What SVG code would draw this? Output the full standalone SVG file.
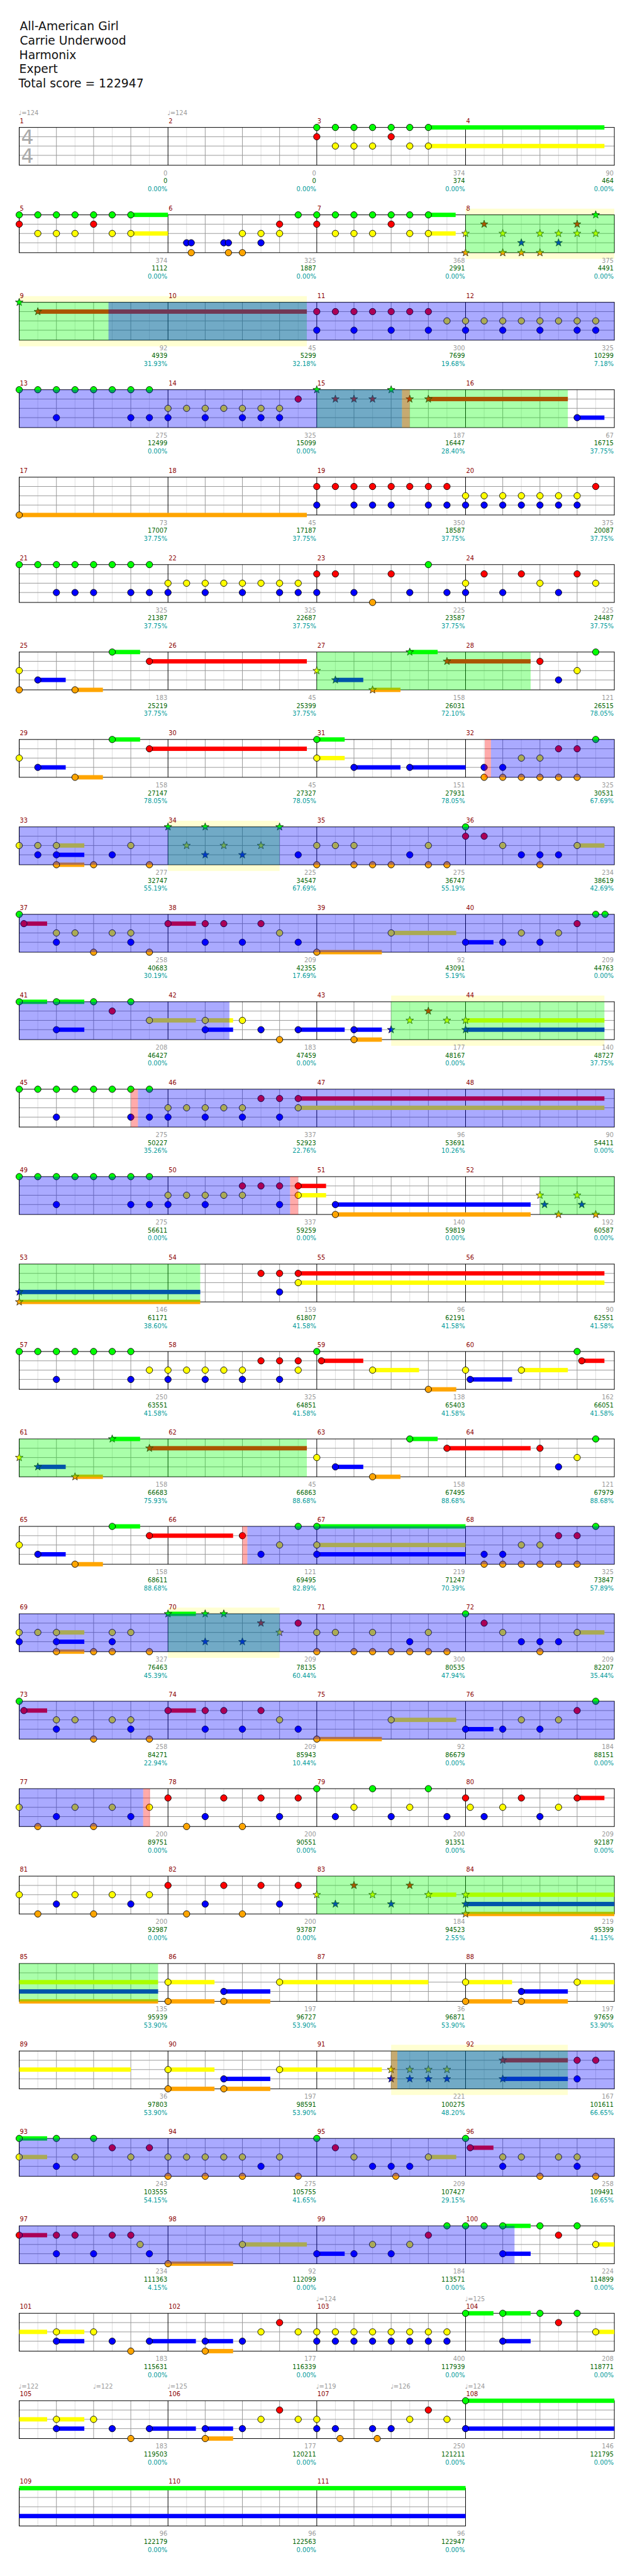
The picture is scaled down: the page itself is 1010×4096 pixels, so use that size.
<svg xmlns="http://www.w3.org/2000/svg" width="1010" height="4096" viewBox="0 0 1010 4096">
<style>
text{font-family:"DejaVu Sans",sans-serif}
.h{font-size:19px;fill:#111}
.mn{font-size:10px;fill:#8b0000}
.tp{font-size:10px;fill:#999}
.s1,.s2,.s3{font-size:10px;text-anchor:end}
.s1{fill:#999}.s2{fill:#006400}.s3{fill:#009a9a}
.ts{font-size:32px;fill:#aaa}
.zG{fill:#0f0}.zR{fill:#f00}.zY{fill:#ff0}.zB{fill:#00f}.zO{fill:#ffa500}
.ob{fill:#00f;opacity:.333}.og{fill:#0f0;opacity:.333}.op{fill:#f00;opacity:.333}.py{fill:#ffffd2}
</style>
<defs>
<g id="m"><path d="M30 0V61M90 0V61M150 0V61M210 0V61" stroke="#ddd"/><path d="M60 0V61M120 0V61M180 0V61M0 15H240M0 30H240M0 45H240" stroke="#999"/><path d="M0 0V61" stroke="#000"/></g>
<g id="r4"><rect x="31" y="0" width="960" height="61" fill="#fff"/><use href="#m" x="31"/><use href="#m" x="271"/><use href="#m" x="511"/><use href="#m" x="751"/><rect x="31" y="0" width="960" height="61" fill="none" stroke="#000"/></g>
<g id="r3"><rect x="31" y="0" width="720" height="61" fill="#fff"/><use href="#m" x="31"/><use href="#m" x="271"/><use href="#m" x="511"/><rect x="31" y="0" width="720" height="61" fill="none" stroke="#000"/></g>
<circle id="G" r="5.2" fill="#0f0" stroke="#000" stroke-width=".9"/>
<circle id="R" r="5.2" fill="#f00" stroke="#000" stroke-width=".9"/>
<circle id="Y" r="5.2" fill="#ff0" stroke="#000" stroke-width=".9"/>
<circle id="B" r="5.2" fill="#00f" stroke="#000" stroke-width=".9"/>
<circle id="O" r="5.2" fill="#ffa500" stroke="#000" stroke-width=".9"/>
<path id="sG" d="M0-6.5L1.53-2.1 6.18-2.01 2.47.8 3.82 5.26 0 2.6-3.82 5.26-2.47.8-6.18-2.01-1.53-2.1Z" fill="#0f0" stroke="#000" stroke-width=".7"/>
<path id="sR" d="M0-6.5L1.53-2.1 6.18-2.01 2.47.8 3.82 5.26 0 2.6-3.82 5.26-2.47.8-6.18-2.01-1.53-2.1Z" fill="#f00" stroke="#000" stroke-width=".7"/>
<path id="sY" d="M0-6.5L1.53-2.1 6.18-2.01 2.47.8 3.82 5.26 0 2.6-3.82 5.26-2.47.8-6.18-2.01-1.53-2.1Z" fill="#ff0" stroke="#000" stroke-width=".7"/>
<path id="sB" d="M0-6.5L1.53-2.1 6.18-2.01 2.47.8 3.82 5.26 0 2.6-3.82 5.26-2.47.8-6.18-2.01-1.53-2.1Z" fill="#00f" stroke="#000" stroke-width=".7"/>
<path id="sO" d="M0-6.5L1.53-2.1 6.18-2.01 2.47.8 3.82 5.26 0 2.6-3.82 5.26-2.47.8-6.18-2.01-1.53-2.1Z" fill="#ffa500" stroke="#000" stroke-width=".7"/>
</defs>
<rect width="1010" height="4096" fill="#fff"/>
<g transform="scale(0.986)">
<g id="header">
<text class="h" x="32" y="49">All-American Girl</text>
<text class="h" x="32" y="72">Carrie Underwood</text>
<text class="h" x="31" y="95">Harmonix</text>
<text class="h" x="31" y="118">Expert</text>
<text class="h" x="30" y="141">Total score = 122947</text>
</g>

<g id="row1" transform="translate(0,205.5)">
<use href="#r4"/>
<text class="ts" x="34" y="27">4</text><text class="ts" x="34" y="57">4</text>
<rect class="zG" x="691" y="-3.5" width="284" height="7"/><rect class="zY" x="691" y="26.5" width="284" height="7"/>
<use href="#G" x="511" y="0"/><use href="#G" x="541" y="0"/><use href="#G" x="571" y="0"/><use href="#G" x="601" y="0"/><use href="#G" x="631" y="0"/><use href="#G" x="661" y="0"/><use href="#G" x="691" y="0"/>
<use href="#R" x="511" y="15"/><use href="#R" x="631" y="15"/>
<use href="#Y" x="541" y="30"/><use href="#Y" x="571" y="30"/><use href="#Y" x="601" y="30"/><use href="#Y" x="661" y="30"/><use href="#Y" x="691" y="30"/>
<text class="tp" x="30" y="-20">♩=124</text><text class="tp" x="270" y="-20">♩=124</text>
<text class="mn" x="32" y="-7">1</text><text class="mn" x="272" y="-7">2</text><text class="mn" x="512" y="-7">3</text><text class="mn" x="752" y="-7">4</text>
<text class="s1" x="270" y="77">0</text><text class="s2" x="270" y="90">0</text><text class="s3" x="270" y="103">0.00%</text>
<text class="s1" x="510" y="77">0</text><text class="s2" x="510" y="90">0</text><text class="s3" x="510" y="103">0.00%</text>
<text class="s1" x="750" y="77">374</text><text class="s2" x="750" y="90">374</text><text class="s3" x="750" y="103">0.00%</text>
<text class="s1" x="990" y="77">90</text><text class="s2" x="990" y="90">464</text><text class="s3" x="990" y="103">0.00%</text>
</g>

<g id="row2" transform="translate(0,346.5)">
<rect class="py" x="751" y="-10" width="240" height="81"/>
<use href="#r4"/>
<rect class="zG" x="211" y="-3.5" width="60" height="7"/><rect class="zY" x="211" y="26.5" width="60" height="7"/><rect class="zG" x="691" y="-3.5" width="44" height="7"/><rect class="zY" x="691" y="26.5" width="44" height="7"/>
<use href="#G" x="31" y="0"/><use href="#G" x="61" y="0"/><use href="#G" x="91" y="0"/><use href="#G" x="121" y="0"/><use href="#G" x="151" y="0"/><use href="#G" x="181" y="0"/><use href="#G" x="211" y="0"/><use href="#G" x="481" y="0"/><use href="#G" x="511" y="0"/><use href="#G" x="541" y="0"/><use href="#G" x="571" y="0"/><use href="#G" x="601" y="0"/><use href="#G" x="631" y="0"/><use href="#G" x="661" y="0"/><use href="#G" x="691" y="0"/>
<use href="#R" x="31" y="15"/><use href="#R" x="151" y="15"/><use href="#R" x="451" y="15"/><use href="#R" x="511" y="15"/><use href="#R" x="631" y="15"/>
<use href="#Y" x="61" y="30"/><use href="#Y" x="91" y="30"/><use href="#Y" x="121" y="30"/><use href="#Y" x="181" y="30"/><use href="#Y" x="211" y="30"/><use href="#Y" x="391" y="30"/><use href="#Y" x="421" y="30"/><use href="#Y" x="451" y="30"/><use href="#Y" x="541" y="30"/><use href="#Y" x="571" y="30"/><use href="#Y" x="601" y="30"/><use href="#Y" x="661" y="30"/><use href="#Y" x="691" y="30"/>
<use href="#B" x="301" y="45"/><use href="#B" x="308.5" y="45"/><use href="#B" x="361" y="45"/><use href="#B" x="368.5" y="45"/><use href="#B" x="421" y="45"/>
<use href="#O" x="308.5" y="61"/><use href="#O" x="368.5" y="61"/><use href="#O" x="391" y="61"/>
<use href="#sY" x="751" y="30"/><use href="#sY" x="811" y="30"/><use href="#sY" x="871" y="30"/><use href="#sY" x="901" y="30"/><use href="#sY" x="931" y="30"/><use href="#sY" x="961" y="30"/>
<use href="#sO" x="751" y="61"/><use href="#sO" x="811" y="61"/><use href="#sO" x="841" y="61"/><use href="#sO" x="871" y="61"/>
<use href="#sR" x="781" y="15"/><use href="#sR" x="931" y="15"/><use href="#sB" x="841" y="45"/><use href="#sB" x="901" y="45"/><use href="#sG" x="961" y="0"/>
<rect class="og" x="751" y="0" width="240" height="61"/>
<text class="mn" x="32" y="-7">5</text><text class="mn" x="272" y="-7">6</text><text class="mn" x="512" y="-7">7</text><text class="mn" x="752" y="-7">8</text>
<text class="s1" x="270" y="77">374</text><text class="s2" x="270" y="90">1112</text><text class="s3" x="270" y="103">0.00%</text>
<text class="s1" x="510" y="77">325</text><text class="s2" x="510" y="90">1887</text><text class="s3" x="510" y="103">0.00%</text>
<text class="s1" x="750" y="77">368</text><text class="s2" x="750" y="90">2991</text><text class="s3" x="750" y="103">0.00%</text>
<text class="s1" x="990" y="77">375</text><text class="s2" x="990" y="90">4491</text><text class="s3" x="990" y="103">0.00%</text>
</g>

<g id="row3" transform="translate(0,487.5)">
<rect class="py" x="31" y="-10" width="464" height="81"/>
<use href="#r4"/>
<rect class="zR" x="61" y="11.5" width="434" height="7"/>
<use href="#sG" x="31" y="0"/><use href="#sR" x="61" y="15"/>
<use href="#R" x="511" y="15"/><use href="#R" x="541" y="15"/><use href="#R" x="571" y="15"/><use href="#R" x="601" y="15"/><use href="#R" x="631" y="15"/><use href="#R" x="661" y="15"/><use href="#R" x="691" y="15"/>
<use href="#B" x="511" y="45"/><use href="#B" x="571" y="45"/><use href="#B" x="631" y="45"/><use href="#B" x="691" y="45"/><use href="#B" x="751" y="45"/><use href="#B" x="811" y="45"/><use href="#B" x="871" y="45"/><use href="#B" x="931" y="45"/><use href="#B" x="961" y="45"/>
<use href="#Y" x="721" y="30"/><use href="#Y" x="751" y="30"/><use href="#Y" x="781" y="30"/><use href="#Y" x="811" y="30"/><use href="#Y" x="841" y="30"/><use href="#Y" x="871" y="30"/><use href="#Y" x="901" y="30"/><use href="#Y" x="931" y="30"/><use href="#Y" x="961" y="30"/>
<rect class="og" x="31" y="0" width="464" height="61"/><rect class="ob" x="175" y="0" width="816" height="61"/>
<text class="mn" x="32" y="-7">9</text><text class="mn" x="272" y="-7">10</text><text class="mn" x="512" y="-7">11</text><text class="mn" x="752" y="-7">12</text>
<text class="s1" x="270" y="77">92</text><text class="s2" x="270" y="90">4939</text><text class="s3" x="270" y="103">31.93%</text>
<text class="s1" x="510" y="77">45</text><text class="s2" x="510" y="90">5299</text><text class="s3" x="510" y="103">32.18%</text>
<text class="s1" x="750" y="77">300</text><text class="s2" x="750" y="90">7699</text><text class="s3" x="750" y="103">19.68%</text>
<text class="s1" x="990" y="77">325</text><text class="s2" x="990" y="90">10299</text><text class="s3" x="990" y="103">7.18%</text>
</g>

<g id="row4" transform="translate(0,628.5)">
<use href="#r4"/>
<rect class="zR" x="691" y="11.5" width="225" height="7"/><rect class="zB" x="931" y="41.5" width="44" height="7"/>
<use href="#G" x="31" y="0"/><use href="#G" x="61" y="0"/><use href="#G" x="91" y="0"/><use href="#G" x="121" y="0"/><use href="#G" x="151" y="0"/><use href="#G" x="181" y="0"/><use href="#G" x="211" y="0"/><use href="#G" x="241" y="0"/>
<use href="#B" x="91" y="45"/><use href="#B" x="211" y="45"/><use href="#B" x="241" y="45"/><use href="#B" x="271" y="45"/><use href="#B" x="331" y="45"/><use href="#B" x="391" y="45"/><use href="#B" x="421" y="45"/><use href="#B" x="451" y="45"/><use href="#B" x="931" y="45"/>
<use href="#Y" x="271" y="30"/><use href="#Y" x="301" y="30"/><use href="#Y" x="331" y="30"/><use href="#Y" x="361" y="30"/><use href="#Y" x="391" y="30"/><use href="#Y" x="421" y="30"/><use href="#Y" x="451" y="30"/>
<use href="#R" x="481" y="15"/>
<use href="#sG" x="511" y="0"/><use href="#sG" x="631" y="0"/><use href="#sR" x="541" y="15"/><use href="#sR" x="571" y="15"/><use href="#sR" x="601" y="15"/><use href="#sR" x="661" y="15"/><use href="#sR" x="691" y="15"/>
<rect class="og" x="511" y="0" width="405" height="61"/><rect class="ob" x="31" y="0" width="617.5" height="61"/><rect class="op" x="648.5" y="0" width="12.5" height="61"/>
<text class="mn" x="32" y="-7">13</text><text class="mn" x="272" y="-7">14</text><text class="mn" x="512" y="-7">15</text><text class="mn" x="752" y="-7">16</text>
<text class="s1" x="270" y="77">275</text><text class="s2" x="270" y="90">12499</text><text class="s3" x="270" y="103">0.00%</text>
<text class="s1" x="510" y="77">325</text><text class="s2" x="510" y="90">15099</text><text class="s3" x="510" y="103">0.00%</text>
<text class="s1" x="750" y="77">187</text><text class="s2" x="750" y="90">16447</text><text class="s3" x="750" y="103">28.40%</text>
<text class="s1" x="990" y="77">67</text><text class="s2" x="990" y="90">16715</text><text class="s3" x="990" y="103">37.75%</text>
</g>

<g id="row5" transform="translate(0,769.5)">
<use href="#r4"/>
<rect class="zO" x="31" y="57.5" width="464" height="7"/>
<use href="#O" x="31" y="61"/>
<use href="#R" x="511" y="15"/><use href="#R" x="541" y="15"/><use href="#R" x="571" y="15"/><use href="#R" x="601" y="15"/><use href="#R" x="631" y="15"/><use href="#R" x="661" y="15"/><use href="#R" x="691" y="15"/><use href="#R" x="721" y="15"/><use href="#R" x="961" y="15"/>
<use href="#B" x="511" y="45"/><use href="#B" x="571" y="45"/><use href="#B" x="601" y="45"/><use href="#B" x="631" y="45"/><use href="#B" x="691" y="45"/><use href="#B" x="721" y="45"/><use href="#B" x="751" y="45"/><use href="#B" x="781" y="45"/><use href="#B" x="811" y="45"/><use href="#B" x="841" y="45"/><use href="#B" x="871" y="45"/><use href="#B" x="901" y="45"/><use href="#B" x="931" y="45"/>
<use href="#Y" x="751" y="30"/><use href="#Y" x="781" y="30"/><use href="#Y" x="811" y="30"/><use href="#Y" x="841" y="30"/><use href="#Y" x="871" y="30"/><use href="#Y" x="901" y="30"/><use href="#Y" x="931" y="30"/>
<text class="mn" x="32" y="-7">17</text><text class="mn" x="272" y="-7">18</text><text class="mn" x="512" y="-7">19</text><text class="mn" x="752" y="-7">20</text>
<text class="s1" x="270" y="77">73</text><text class="s2" x="270" y="90">17007</text><text class="s3" x="270" y="103">37.75%</text>
<text class="s1" x="510" y="77">45</text><text class="s2" x="510" y="90">17187</text><text class="s3" x="510" y="103">37.75%</text>
<text class="s1" x="750" y="77">350</text><text class="s2" x="750" y="90">18587</text><text class="s3" x="750" y="103">37.75%</text>
<text class="s1" x="990" y="77">375</text><text class="s2" x="990" y="90">20087</text><text class="s3" x="990" y="103">37.75%</text>
</g>

<g id="row6" transform="translate(0,910.5)">
<use href="#r4"/>
<use href="#G" x="31" y="0"/><use href="#G" x="61" y="0"/><use href="#G" x="91" y="0"/><use href="#G" x="121" y="0"/><use href="#G" x="151" y="0"/><use href="#G" x="181" y="0"/><use href="#G" x="211" y="0"/><use href="#G" x="241" y="0"/><use href="#G" x="691" y="0"/>
<use href="#B" x="91" y="45"/><use href="#B" x="121" y="45"/><use href="#B" x="151" y="45"/><use href="#B" x="211" y="45"/><use href="#B" x="241" y="45"/><use href="#B" x="271" y="45"/><use href="#B" x="331" y="45"/><use href="#B" x="391" y="45"/><use href="#B" x="451" y="45"/><use href="#B" x="481" y="45"/><use href="#B" x="511" y="45"/><use href="#B" x="571" y="45"/><use href="#B" x="661" y="45"/><use href="#B" x="721" y="45"/><use href="#B" x="751" y="45"/><use href="#B" x="811" y="45"/><use href="#B" x="901" y="45"/>
<use href="#Y" x="271" y="30"/><use href="#Y" x="301" y="30"/><use href="#Y" x="331" y="30"/><use href="#Y" x="361" y="30"/><use href="#Y" x="391" y="30"/><use href="#Y" x="421" y="30"/><use href="#Y" x="451" y="30"/><use href="#Y" x="481" y="30"/><use href="#Y" x="751" y="30"/><use href="#Y" x="871" y="30"/><use href="#Y" x="961" y="30"/>
<use href="#R" x="511" y="15"/><use href="#R" x="541" y="15"/><use href="#R" x="631" y="15"/><use href="#R" x="781" y="15"/><use href="#R" x="841" y="15"/><use href="#R" x="931" y="15"/>
<use href="#O" x="601" y="61"/>
<text class="mn" x="32" y="-7">21</text><text class="mn" x="272" y="-7">22</text><text class="mn" x="512" y="-7">23</text><text class="mn" x="752" y="-7">24</text>
<text class="s1" x="270" y="77">325</text><text class="s2" x="270" y="90">21387</text><text class="s3" x="270" y="103">37.75%</text>
<text class="s1" x="510" y="77">325</text><text class="s2" x="510" y="90">22687</text><text class="s3" x="510" y="103">37.75%</text>
<text class="s1" x="750" y="77">225</text><text class="s2" x="750" y="90">23587</text><text class="s3" x="750" y="103">37.75%</text>
<text class="s1" x="990" y="77">225</text><text class="s2" x="990" y="90">24487</text><text class="s3" x="990" y="103">37.75%</text>
</g>

<g id="row7" transform="translate(0,1051.5)">
<use href="#r4"/>
<rect class="zB" x="61" y="41.5" width="45" height="7"/><rect class="zO" x="121" y="57.5" width="45" height="7"/><rect class="zG" x="181" y="-3.5" width="45" height="7"/><rect class="zR" x="241" y="11.5" width="254" height="7"/>
<rect class="zB" x="541" y="41.5" width="45" height="7"/><rect class="zO" x="601" y="57.5" width="45" height="7"/><rect class="zG" x="661" y="-3.5" width="45" height="7"/><rect class="zR" x="721" y="11.5" width="135" height="7"/>
<use href="#Y" x="31" y="30"/><use href="#O" x="31" y="61"/><use href="#B" x="61" y="45"/><use href="#O" x="121" y="61"/><use href="#G" x="181" y="0"/><use href="#R" x="241" y="15"/>
<use href="#sY" x="511" y="30"/><use href="#sB" x="541" y="45"/><use href="#sO" x="601" y="61"/><use href="#sG" x="661" y="0"/><use href="#sR" x="721" y="15"/>
<use href="#R" x="871" y="15"/><use href="#B" x="901" y="45"/><use href="#Y" x="931" y="30"/><use href="#G" x="961" y="0"/>
<rect class="og" x="511" y="0" width="345" height="61"/>
<text class="mn" x="32" y="-7">25</text><text class="mn" x="272" y="-7">26</text><text class="mn" x="512" y="-7">27</text><text class="mn" x="752" y="-7">28</text>
<text class="s1" x="270" y="77">183</text><text class="s2" x="270" y="90">25219</text><text class="s3" x="270" y="103">37.75%</text>
<text class="s1" x="510" y="77">45</text><text class="s2" x="510" y="90">25399</text><text class="s3" x="510" y="103">37.75%</text>
<text class="s1" x="750" y="77">158</text><text class="s2" x="750" y="90">26031</text><text class="s3" x="750" y="103">72.10%</text>
<text class="s1" x="990" y="77">121</text><text class="s2" x="990" y="90">26515</text><text class="s3" x="990" y="103">78.05%</text>
</g>

<g id="row8" transform="translate(0,1192.5)">
<use href="#r4"/>
<rect class="zB" x="61" y="41.5" width="45" height="7"/><rect class="zO" x="121" y="57.5" width="45" height="7"/><rect class="zG" x="181" y="-3.5" width="45" height="7"/><rect class="zR" x="241" y="11.5" width="254" height="7"/>
<rect class="zG" x="511" y="-3.5" width="45" height="7"/><rect class="zY" x="511" y="26.5" width="45" height="7"/><rect class="zB" x="571" y="41.5" width="75" height="7"/><rect class="zB" x="661" y="41.5" width="90" height="7"/>
<use href="#Y" x="31" y="30"/><use href="#B" x="61" y="45"/><use href="#O" x="121" y="61"/><use href="#G" x="181" y="0"/><use href="#R" x="241" y="15"/>
<use href="#G" x="511" y="0"/><use href="#Y" x="511" y="30"/><use href="#B" x="571" y="45"/><use href="#B" x="661" y="45"/>
<use href="#B" x="781" y="45"/><use href="#B" x="811" y="45"/><use href="#O" x="781" y="61"/><use href="#O" x="811" y="61"/><use href="#O" x="841" y="61"/><use href="#O" x="871" y="61"/><use href="#O" x="901" y="61"/><use href="#O" x="931" y="61"/>
<use href="#Y" x="841" y="30"/><use href="#Y" x="871" y="30"/><use href="#R" x="901" y="15"/><use href="#R" x="931" y="15"/><use href="#G" x="961" y="0"/>
<rect class="op" x="782" y="0" width="10" height="61"/><rect class="ob" x="792" y="0" width="199" height="61"/>
<text class="mn" x="32" y="-7">29</text><text class="mn" x="272" y="-7">30</text><text class="mn" x="512" y="-7">31</text><text class="mn" x="752" y="-7">32</text>
<text class="s1" x="270" y="77">158</text><text class="s2" x="270" y="90">27147</text><text class="s3" x="270" y="103">78.05%</text>
<text class="s1" x="510" y="77">45</text><text class="s2" x="510" y="90">27327</text><text class="s3" x="510" y="103">78.05%</text>
<text class="s1" x="750" y="77">151</text><text class="s2" x="750" y="90">27931</text><text class="s3" x="750" y="103">78.05%</text>
<text class="s1" x="990" y="77">325</text><text class="s2" x="990" y="90">30531</text><text class="s3" x="990" y="103">67.69%</text>
</g>

<g id="row9" transform="translate(0,1333.5)">
<rect class="py" x="271" y="-10" width="180" height="81"/>
<use href="#r4"/>
<rect class="zY" x="91" y="26.5" width="45" height="7"/><rect class="zB" x="91" y="41.5" width="45" height="7"/><rect class="zO" x="91" y="57.5" width="45" height="7"/><rect class="zY" x="931" y="26.5" width="44" height="7"/>
<use href="#Y" x="31" y="30"/><use href="#Y" x="61" y="30"/><use href="#Y" x="91" y="30"/><use href="#Y" x="211" y="30"/><use href="#Y" x="511" y="30"/><use href="#Y" x="541" y="30"/><use href="#Y" x="571" y="30"/><use href="#Y" x="691" y="30"/><use href="#Y" x="811" y="30"/><use href="#Y" x="931" y="30"/>
<use href="#B" x="61" y="45"/><use href="#B" x="91" y="45"/><use href="#B" x="181" y="45"/><use href="#B" x="481" y="45"/><use href="#B" x="661" y="45"/><use href="#B" x="841" y="45"/><use href="#B" x="871" y="45"/><use href="#B" x="901" y="45"/>
<use href="#O" x="91" y="61"/><use href="#O" x="151" y="61"/><use href="#O" x="241" y="61"/><use href="#O" x="511" y="61"/><use href="#O" x="571" y="61"/><use href="#O" x="601" y="61"/><use href="#O" x="631" y="61"/><use href="#O" x="691" y="61"/><use href="#O" x="721" y="61"/><use href="#O" x="871" y="61"/>
<use href="#G" x="751" y="0"/><use href="#R" x="751" y="15"/><use href="#R" x="781" y="15"/>
<use href="#sG" x="271" y="0"/><use href="#sG" x="331" y="0"/><use href="#sG" x="451" y="0"/><use href="#sY" x="301" y="30"/><use href="#sY" x="361" y="30"/><use href="#sY" x="421" y="30"/><use href="#sB" x="331" y="45"/><use href="#sB" x="391" y="45"/>
<rect class="og" x="271" y="0" width="180" height="61"/><rect class="ob" x="31" y="0" width="960" height="61"/>
<text class="mn" x="32" y="-7">33</text><text class="mn" x="272" y="-7">34</text><text class="mn" x="512" y="-7">35</text><text class="mn" x="752" y="-7">36</text>
<text class="s1" x="270" y="77">277</text><text class="s2" x="270" y="90">32747</text><text class="s3" x="270" y="103">55.19%</text>
<text class="s1" x="510" y="77">225</text><text class="s2" x="510" y="90">34547</text><text class="s3" x="510" y="103">67.69%</text>
<text class="s1" x="750" y="77">275</text><text class="s2" x="750" y="90">36747</text><text class="s3" x="750" y="103">55.19%</text>
<text class="s1" x="990" y="77">234</text><text class="s2" x="990" y="90">38619</text><text class="s3" x="990" y="103">42.69%</text>
</g>

<g id="row10" transform="translate(0,1474.5)">
<use href="#r4"/>
<rect class="zR" x="38.5" y="11.5" width="37.5" height="7"/><rect class="zR" x="271" y="11.5" width="45" height="7"/><rect class="zO" x="511" y="57.5" width="105" height="7"/><rect class="zY" x="631" y="26.5" width="105" height="7"/><rect class="zB" x="751" y="41.5" width="45" height="7"/>
<use href="#G" x="31" y="0"/><use href="#G" x="961" y="0"/><use href="#G" x="976" y="0"/>
<use href="#R" x="38.5" y="15"/><use href="#R" x="271" y="15"/><use href="#R" x="331" y="15"/><use href="#R" x="361" y="15"/><use href="#R" x="421" y="15"/><use href="#R" x="931" y="15"/>
<use href="#Y" x="91" y="30"/><use href="#Y" x="121" y="30"/><use href="#Y" x="181" y="30"/><use href="#Y" x="211" y="30"/><use href="#Y" x="451" y="30"/><use href="#Y" x="631" y="30"/><use href="#Y" x="841" y="30"/><use href="#Y" x="901" y="30"/>
<use href="#B" x="91" y="45"/><use href="#B" x="211" y="45"/><use href="#B" x="331" y="45"/><use href="#B" x="391" y="45"/><use href="#B" x="481" y="45"/><use href="#B" x="751" y="45"/><use href="#B" x="811" y="45"/><use href="#B" x="871" y="45"/>
<use href="#O" x="151" y="61"/><use href="#O" x="241" y="61"/><use href="#O" x="511" y="61"/>
<rect class="ob" x="31" y="0" width="960" height="61"/>
<text class="mn" x="32" y="-7">37</text><text class="mn" x="272" y="-7">38</text><text class="mn" x="512" y="-7">39</text><text class="mn" x="752" y="-7">40</text>
<text class="s1" x="270" y="77">258</text><text class="s2" x="270" y="90">40683</text><text class="s3" x="270" y="103">30.19%</text>
<text class="s1" x="510" y="77">209</text><text class="s2" x="510" y="90">42355</text><text class="s3" x="510" y="103">17.69%</text>
<text class="s1" x="750" y="77">92</text><text class="s2" x="750" y="90">43091</text><text class="s3" x="750" y="103">5.19%</text>
<text class="s1" x="990" y="77">209</text><text class="s2" x="990" y="90">44763</text><text class="s3" x="990" y="103">0.00%</text>
</g>

<g id="row11" transform="translate(0,1615.5)">
<rect class="py" x="631" y="-10" width="344" height="81"/>
<use href="#r4"/>
<rect class="zG" x="31" y="-3.5" width="45" height="7"/><rect class="zG" x="91" y="-3.5" width="45" height="7"/><rect class="zY" x="241" y="26.5" width="75" height="7"/><rect class="zB" x="91" y="41.5" width="45" height="7"/>
<rect class="zY" x="331" y="26.5" width="45" height="7"/><rect class="zB" x="331" y="41.5" width="45" height="7"/><rect class="zB" x="481" y="41.5" width="75" height="7"/><rect class="zB" x="571" y="41.5" width="45" height="7"/><rect class="zO" x="571" y="57.5" width="45" height="7"/>
<rect class="zY" x="751" y="26.5" width="224" height="7"/><rect class="zB" x="751" y="41.5" width="224" height="7"/>
<use href="#G" x="31" y="0"/><use href="#G" x="91" y="0"/><use href="#G" x="151" y="0"/><use href="#G" x="211" y="0"/><use href="#R" x="181" y="15"/>
<use href="#Y" x="241" y="30"/><use href="#Y" x="331" y="30"/><use href="#Y" x="391" y="30"/>
<use href="#B" x="91" y="45"/><use href="#B" x="331" y="45"/><use href="#B" x="421" y="45"/><use href="#B" x="481" y="45"/><use href="#B" x="571" y="45"/>
<use href="#O" x="451" y="61"/><use href="#O" x="571" y="61"/>
<use href="#sB" x="631" y="45"/><use href="#sY" x="661" y="30"/><use href="#sR" x="691" y="15"/><use href="#sY" x="721" y="30"/><use href="#sY" x="751" y="30"/><use href="#sB" x="751" y="45"/>
<rect class="ob" x="31" y="0" width="339" height="61"/><rect class="og" x="631" y="0" width="344" height="61"/>
<text class="mn" x="32" y="-7">41</text><text class="mn" x="272" y="-7">42</text><text class="mn" x="512" y="-7">43</text><text class="mn" x="752" y="-7">44</text>
<text class="s1" x="270" y="77">208</text><text class="s2" x="270" y="90">46427</text><text class="s3" x="270" y="103">0.00%</text>
<text class="s1" x="510" y="77">183</text><text class="s2" x="510" y="90">47459</text><text class="s3" x="510" y="103">0.00%</text>
<text class="s1" x="750" y="77">177</text><text class="s2" x="750" y="90">48167</text><text class="s3" x="750" y="103">0.00%</text>
<text class="s1" x="990" y="77">140</text><text class="s2" x="990" y="90">48727</text><text class="s3" x="990" y="103">37.75%</text>
</g>

<g id="row12" transform="translate(0,1756.5)">
<use href="#r4"/>
<rect class="zY" x="481" y="26.5" width="494" height="7"/><rect class="zR" x="481" y="11.5" width="494" height="7"/>
<use href="#G" x="31" y="0"/><use href="#G" x="61" y="0"/><use href="#G" x="91" y="0"/><use href="#G" x="121" y="0"/><use href="#G" x="151" y="0"/><use href="#G" x="181" y="0"/><use href="#G" x="211" y="0"/><use href="#G" x="241" y="0"/>
<use href="#B" x="91" y="45"/><use href="#B" x="211" y="45"/><use href="#B" x="241" y="45"/><use href="#B" x="271" y="45"/><use href="#B" x="331" y="45"/><use href="#B" x="391" y="45"/><use href="#B" x="451" y="45"/>
<use href="#Y" x="271" y="30"/><use href="#Y" x="301" y="30"/><use href="#Y" x="331" y="30"/><use href="#Y" x="361" y="30"/><use href="#Y" x="391" y="30"/><use href="#Y" x="481" y="30"/>
<use href="#R" x="421" y="15"/><use href="#R" x="451" y="15"/><use href="#R" x="481" y="15"/>
<rect class="op" x="211.5" y="0" width="11" height="61"/><rect class="ob" x="222.5" y="0" width="768.5" height="61"/>
<text class="mn" x="32" y="-7">45</text><text class="mn" x="272" y="-7">46</text><text class="mn" x="512" y="-7">47</text><text class="mn" x="752" y="-7">48</text>
<text class="s1" x="270" y="77">275</text><text class="s2" x="270" y="90">50227</text><text class="s3" x="270" y="103">35.26%</text>
<text class="s1" x="510" y="77">337</text><text class="s2" x="510" y="90">52923</text><text class="s3" x="510" y="103">22.76%</text>
<text class="s1" x="750" y="77">96</text><text class="s2" x="750" y="90">53691</text><text class="s3" x="750" y="103">10.26%</text>
<text class="s1" x="990" y="77">90</text><text class="s2" x="990" y="90">54411</text><text class="s3" x="990" y="103">0.00%</text>
</g>

<g id="row13" transform="translate(0,1897.5)">
<use href="#r4"/>
<rect class="zR" x="481" y="11.5" width="45" height="7"/><rect class="zY" x="481" y="26.5" width="45" height="7"/><rect class="zB" x="541" y="41.5" width="315" height="7"/><rect class="zO" x="541" y="57.5" width="315" height="7"/>
<use href="#G" x="31" y="0"/><use href="#G" x="61" y="0"/><use href="#G" x="91" y="0"/><use href="#G" x="121" y="0"/><use href="#G" x="151" y="0"/><use href="#G" x="181" y="0"/><use href="#G" x="211" y="0"/><use href="#G" x="241" y="0"/>
<use href="#B" x="91" y="45"/><use href="#B" x="211" y="45"/><use href="#B" x="241" y="45"/><use href="#B" x="271" y="45"/><use href="#B" x="331" y="45"/><use href="#B" x="451" y="45"/><use href="#B" x="541" y="45"/>
<use href="#Y" x="271" y="30"/><use href="#Y" x="301" y="30"/><use href="#Y" x="331" y="30"/><use href="#Y" x="361" y="30"/><use href="#Y" x="391" y="30"/><use href="#Y" x="481" y="30"/>
<use href="#R" x="391" y="15"/><use href="#R" x="421" y="15"/><use href="#R" x="451" y="15"/><use href="#R" x="481" y="15"/>
<use href="#O" x="541" y="61"/>
<use href="#sY" x="871" y="30"/><use href="#sY" x="931" y="30"/><use href="#sB" x="878.5" y="45"/><use href="#sB" x="938.5" y="45"/><use href="#sO" x="901" y="61"/><use href="#sO" x="961" y="61"/>
<rect class="ob" x="31" y="0" width="437" height="61"/><rect class="op" x="468" y="0" width="13" height="61"/><rect class="og" x="871" y="0" width="120" height="61"/>
<text class="mn" x="32" y="-7">49</text><text class="mn" x="272" y="-7">50</text><text class="mn" x="512" y="-7">51</text><text class="mn" x="752" y="-7">52</text>
<text class="s1" x="270" y="77">275</text><text class="s2" x="270" y="90">56611</text><text class="s3" x="270" y="103">0.00%</text>
<text class="s1" x="510" y="77">337</text><text class="s2" x="510" y="90">59259</text><text class="s3" x="510" y="103">0.00%</text>
<text class="s1" x="750" y="77">140</text><text class="s2" x="750" y="90">59819</text><text class="s3" x="750" y="103">0.00%</text>
<text class="s1" x="990" y="77">192</text><text class="s2" x="990" y="90">60587</text><text class="s3" x="990" y="103">0.00%</text>
</g>

<g id="row14" transform="translate(0,2038.5)">
<use href="#r4"/>
<rect class="zB" x="31" y="41.5" width="292" height="7"/><rect class="zO" x="31" y="57.5" width="292" height="7"/><rect class="zR" x="481" y="11.5" width="494" height="7"/><rect class="zY" x="481" y="26.5" width="494" height="7"/>
<use href="#sB" x="31" y="45"/><use href="#sO" x="31" y="61"/>
<use href="#R" x="421" y="15"/><use href="#R" x="451" y="15"/><use href="#R" x="481" y="15"/><use href="#Y" x="481" y="30"/><use href="#B" x="451" y="45"/>
<rect class="og" x="31" y="0" width="292" height="61"/>
<text class="mn" x="32" y="-7">53</text><text class="mn" x="272" y="-7">54</text><text class="mn" x="512" y="-7">55</text><text class="mn" x="752" y="-7">56</text>
<text class="s1" x="270" y="77">146</text><text class="s2" x="270" y="90">61171</text><text class="s3" x="270" y="103">38.60%</text>
<text class="s1" x="510" y="77">159</text><text class="s2" x="510" y="90">61807</text><text class="s3" x="510" y="103">41.58%</text>
<text class="s1" x="750" y="77">96</text><text class="s2" x="750" y="90">62191</text><text class="s3" x="750" y="103">41.58%</text>
<text class="s1" x="990" y="77">90</text><text class="s2" x="990" y="90">62551</text><text class="s3" x="990" y="103">41.58%</text>
</g>

<g id="row15" transform="translate(0,2179.5)">
<use href="#r4"/>
<rect class="zR" x="518.5" y="11.5" width="67.5" height="7"/><rect class="zY" x="601" y="26.5" width="75" height="7"/><rect class="zO" x="691" y="57.5" width="45" height="7"/><rect class="zB" x="758.5" y="41.5" width="67.5" height="7"/><rect class="zY" x="841" y="26.5" width="75" height="7"/><rect class="zR" x="938.5" y="11.5" width="36.5" height="7"/>
<use href="#G" x="31" y="0"/><use href="#G" x="61" y="0"/><use href="#G" x="91" y="0"/><use href="#G" x="121" y="0"/><use href="#G" x="151" y="0"/><use href="#G" x="181" y="0"/><use href="#G" x="211" y="0"/><use href="#G" x="511" y="0"/><use href="#G" x="931" y="0"/>
<use href="#B" x="91" y="45"/><use href="#B" x="211" y="45"/><use href="#B" x="271" y="45"/><use href="#B" x="331" y="45"/><use href="#B" x="391" y="45"/><use href="#B" x="451" y="45"/><use href="#B" x="758.5" y="45"/>
<use href="#Y" x="241" y="30"/><use href="#Y" x="271" y="30"/><use href="#Y" x="301" y="30"/><use href="#Y" x="331" y="30"/><use href="#Y" x="361" y="30"/><use href="#Y" x="391" y="30"/><use href="#Y" x="481" y="30"/><use href="#Y" x="601" y="30"/><use href="#Y" x="751" y="30"/><use href="#Y" x="841" y="30"/>
<use href="#R" x="421" y="15"/><use href="#R" x="451" y="15"/><use href="#R" x="481" y="15"/><use href="#R" x="518.5" y="15"/><use href="#R" x="938.5" y="15"/>
<use href="#O" x="691" y="61"/>
<text class="mn" x="32" y="-7">57</text><text class="mn" x="272" y="-7">58</text><text class="mn" x="512" y="-7">59</text><text class="mn" x="752" y="-7">60</text>
<text class="s1" x="270" y="77">250</text><text class="s2" x="270" y="90">63551</text><text class="s3" x="270" y="103">41.58%</text>
<text class="s1" x="510" y="77">325</text><text class="s2" x="510" y="90">64851</text><text class="s3" x="510" y="103">41.58%</text>
<text class="s1" x="750" y="77">138</text><text class="s2" x="750" y="90">65403</text><text class="s3" x="750" y="103">41.58%</text>
<text class="s1" x="990" y="77">162</text><text class="s2" x="990" y="90">66051</text><text class="s3" x="990" y="103">41.58%</text>
</g>

<g id="row16" transform="translate(0,2320.5)">
<use href="#r4"/>
<rect class="zB" x="61" y="41.5" width="45" height="7"/><rect class="zO" x="121" y="57.5" width="45" height="7"/><rect class="zG" x="181" y="-3.5" width="45" height="7"/><rect class="zR" x="241" y="11.5" width="254" height="7"/>
<rect class="zB" x="541" y="41.5" width="45" height="7"/><rect class="zO" x="601" y="57.5" width="45" height="7"/><rect class="zG" x="661" y="-3.5" width="45" height="7"/><rect class="zR" x="721" y="11.5" width="135" height="7"/>
<use href="#sY" x="31" y="30"/><use href="#sB" x="61" y="45"/><use href="#sO" x="121" y="61"/><use href="#sG" x="181" y="0"/><use href="#sR" x="241" y="15"/>
<use href="#Y" x="511" y="30"/><use href="#B" x="541" y="45"/><use href="#O" x="601" y="61"/><use href="#G" x="661" y="0"/><use href="#R" x="721" y="15"/>
<use href="#R" x="871" y="15"/><use href="#B" x="901" y="45"/><use href="#Y" x="931" y="30"/><use href="#G" x="961" y="0"/>
<rect class="og" x="31" y="0" width="464" height="61"/>
<text class="mn" x="32" y="-7">61</text><text class="mn" x="272" y="-7">62</text><text class="mn" x="512" y="-7">63</text><text class="mn" x="752" y="-7">64</text>
<text class="s1" x="270" y="77">158</text><text class="s2" x="270" y="90">66683</text><text class="s3" x="270" y="103">75.93%</text>
<text class="s1" x="510" y="77">45</text><text class="s2" x="510" y="90">66863</text><text class="s3" x="510" y="103">88.68%</text>
<text class="s1" x="750" y="77">158</text><text class="s2" x="750" y="90">67495</text><text class="s3" x="750" y="103">88.68%</text>
<text class="s1" x="990" y="77">121</text><text class="s2" x="990" y="90">67979</text><text class="s3" x="990" y="103">88.68%</text>
</g>

<g id="row17" transform="translate(0,2461.5)">
<use href="#r4"/>
<rect class="zB" x="61" y="41.5" width="45" height="7"/><rect class="zO" x="121" y="57.5" width="45" height="7"/><rect class="zG" x="181" y="-3.5" width="45" height="7"/><rect class="zR" x="241" y="11.5" width="135" height="7"/>
<rect class="zG" x="511" y="-3.5" width="240" height="7"/><rect class="zY" x="511" y="26.5" width="240" height="7"/><rect class="zB" x="511" y="41.5" width="240" height="7"/>
<use href="#Y" x="31" y="30"/><use href="#B" x="61" y="45"/><use href="#O" x="121" y="61"/><use href="#G" x="181" y="0"/><use href="#R" x="241" y="15"/>
<use href="#R" x="391" y="15"/><use href="#B" x="421" y="45"/><use href="#Y" x="451" y="30"/><use href="#G" x="481" y="0"/>
<use href="#G" x="511" y="0"/><use href="#Y" x="511" y="30"/><use href="#B" x="511" y="45"/>
<use href="#B" x="781" y="45"/><use href="#B" x="811" y="45"/><use href="#O" x="781" y="61"/><use href="#O" x="811" y="61"/><use href="#O" x="841" y="61"/><use href="#O" x="871" y="61"/><use href="#O" x="901" y="61"/><use href="#O" x="931" y="61"/>
<use href="#Y" x="841" y="30"/><use href="#Y" x="871" y="30"/><use href="#R" x="901" y="15"/><use href="#R" x="931" y="15"/><use href="#G" x="961" y="0"/>
<rect class="op" x="391" y="0" width="8" height="61"/><rect class="ob" x="399" y="0" width="592" height="61"/>
<text class="mn" x="32" y="-7">65</text><text class="mn" x="272" y="-7">66</text><text class="mn" x="512" y="-7">67</text><text class="mn" x="752" y="-7">68</text>
<text class="s1" x="270" y="77">158</text><text class="s2" x="270" y="90">68611</text><text class="s3" x="270" y="103">88.68%</text>
<text class="s1" x="510" y="77">121</text><text class="s2" x="510" y="90">69495</text><text class="s3" x="510" y="103">82.89%</text>
<text class="s1" x="750" y="77">219</text><text class="s2" x="750" y="90">71247</text><text class="s3" x="750" y="103">70.39%</text>
<text class="s1" x="990" y="77">325</text><text class="s2" x="990" y="90">73847</text><text class="s3" x="990" y="103">57.89%</text>
</g>

<g id="row18" transform="translate(0,2602.5)">
<rect class="py" x="271" y="-10" width="180" height="81"/>
<use href="#r4"/>
<rect class="zY" x="91" y="26.5" width="45" height="7"/><rect class="zB" x="91" y="41.5" width="45" height="7"/><rect class="zO" x="91" y="57.5" width="45" height="7"/><rect class="zG" x="271" y="-3.5" width="45" height="7"/><rect class="zY" x="931" y="26.5" width="44" height="7"/>
<use href="#Y" x="31" y="30"/><use href="#Y" x="61" y="30"/><use href="#Y" x="91" y="30"/><use href="#Y" x="181" y="30"/><use href="#Y" x="211" y="30"/><use href="#Y" x="511" y="30"/><use href="#Y" x="541" y="30"/><use href="#Y" x="601" y="30"/><use href="#Y" x="691" y="30"/><use href="#Y" x="811" y="30"/><use href="#Y" x="931" y="30"/>
<use href="#B" x="31" y="45"/><use href="#B" x="91" y="45"/><use href="#B" x="181" y="45"/><use href="#B" x="661" y="45"/><use href="#B" x="841" y="45"/><use href="#B" x="871" y="45"/><use href="#B" x="901" y="45"/>
<use href="#O" x="91" y="61"/><use href="#O" x="151" y="61"/><use href="#O" x="181" y="61"/><use href="#O" x="241" y="61"/><use href="#O" x="511" y="61"/><use href="#O" x="571" y="61"/><use href="#O" x="601" y="61"/><use href="#O" x="631" y="61"/><use href="#O" x="661" y="61"/><use href="#O" x="691" y="61"/><use href="#O" x="721" y="61"/><use href="#O" x="871" y="61"/>
<use href="#R" x="481" y="15"/><use href="#R" x="781" y="15"/><use href="#G" x="751" y="0"/>
<use href="#sG" x="271" y="0"/><use href="#sG" x="331" y="0"/><use href="#sG" x="361" y="0"/><use href="#sR" x="421" y="15"/><use href="#sY" x="451" y="30"/><use href="#sB" x="331" y="45"/><use href="#sB" x="391" y="45"/>
<rect class="og" x="271" y="0" width="180" height="61"/><rect class="ob" x="31" y="0" width="960" height="61"/>
<text class="mn" x="32" y="-7">69</text><text class="mn" x="272" y="-7">70</text><text class="mn" x="512" y="-7">71</text><text class="mn" x="752" y="-7">72</text>
<text class="s1" x="270" y="77">327</text><text class="s2" x="270" y="90">76463</text><text class="s3" x="270" y="103">45.39%</text>
<text class="s1" x="510" y="77">209</text><text class="s2" x="510" y="90">78135</text><text class="s3" x="510" y="103">60.44%</text>
<text class="s1" x="750" y="77">300</text><text class="s2" x="750" y="90">80535</text><text class="s3" x="750" y="103">47.94%</text>
<text class="s1" x="990" y="77">209</text><text class="s2" x="990" y="90">82207</text><text class="s3" x="990" y="103">35.44%</text>
</g>

<g id="row19" transform="translate(0,2743.5)">
<use href="#r4"/>
<rect class="zR" x="38.5" y="11.5" width="37.5" height="7"/><rect class="zR" x="271" y="11.5" width="45" height="7"/><rect class="zO" x="511" y="57.5" width="105" height="7"/><rect class="zY" x="631" y="26.5" width="105" height="7"/><rect class="zB" x="751" y="41.5" width="45" height="7"/>
<use href="#G" x="31" y="0"/><use href="#G" x="961" y="0"/>
<use href="#R" x="38.5" y="15"/><use href="#R" x="271" y="15"/><use href="#R" x="331" y="15"/><use href="#R" x="361" y="15"/><use href="#R" x="421" y="15"/><use href="#R" x="931" y="15"/>
<use href="#Y" x="91" y="30"/><use href="#Y" x="121" y="30"/><use href="#Y" x="181" y="30"/><use href="#Y" x="211" y="30"/><use href="#Y" x="451" y="30"/><use href="#Y" x="631" y="30"/><use href="#Y" x="841" y="30"/><use href="#Y" x="901" y="30"/>
<use href="#B" x="91" y="45"/><use href="#B" x="211" y="45"/><use href="#B" x="331" y="45"/><use href="#B" x="391" y="45"/><use href="#B" x="481" y="45"/><use href="#B" x="751" y="45"/><use href="#B" x="811" y="45"/><use href="#B" x="871" y="45"/>
<use href="#O" x="151" y="61"/><use href="#O" x="241" y="61"/><use href="#O" x="511" y="61"/>
<rect class="ob" x="31" y="0" width="960" height="61"/>
<text class="mn" x="32" y="-7">73</text><text class="mn" x="272" y="-7">74</text><text class="mn" x="512" y="-7">75</text><text class="mn" x="752" y="-7">76</text>
<text class="s1" x="270" y="77">258</text><text class="s2" x="270" y="90">84271</text><text class="s3" x="270" y="103">22.94%</text>
<text class="s1" x="510" y="77">209</text><text class="s2" x="510" y="90">85943</text><text class="s3" x="510" y="103">10.44%</text>
<text class="s1" x="750" y="77">92</text><text class="s2" x="750" y="90">86679</text><text class="s3" x="750" y="103">0.00%</text>
<text class="s1" x="990" y="77">184</text><text class="s2" x="990" y="90">88151</text><text class="s3" x="990" y="103">0.00%</text>
</g>

<g id="row20" transform="translate(0,2884.5)">
<use href="#r4"/>
<rect class="zR" x="931" y="11.5" width="44" height="7"/>
<use href="#Y" x="31" y="30"/><use href="#Y" x="121" y="30"/><use href="#Y" x="181" y="30"/><use href="#Y" x="241" y="30"/><use href="#Y" x="571" y="30"/><use href="#Y" x="661" y="30"/><use href="#Y" x="758.5" y="30"/><use href="#Y" x="811" y="30"/><use href="#Y" x="901" y="30"/>
<use href="#B" x="91" y="45"/><use href="#B" x="211" y="45"/><use href="#B" x="331" y="45"/><use href="#B" x="451" y="45"/><use href="#B" x="541" y="45"/><use href="#B" x="631" y="45"/><use href="#B" x="721" y="45"/><use href="#B" x="781" y="45"/><use href="#B" x="871" y="45"/>
<use href="#O" x="61" y="61"/><use href="#O" x="151" y="61"/><use href="#O" x="301" y="61"/><use href="#O" x="391" y="61"/>
<use href="#R" x="271" y="15"/><use href="#R" x="361" y="15"/><use href="#R" x="421" y="15"/><use href="#R" x="481" y="15"/><use href="#R" x="751" y="15"/><use href="#R" x="841" y="15"/><use href="#R" x="931" y="15"/>
<use href="#G" x="511" y="0"/><use href="#G" x="601" y="0"/><use href="#G" x="691" y="0"/>
<rect class="ob" x="31" y="0" width="200" height="61"/><rect class="op" x="231" y="0" width="11" height="61"/>
<text class="mn" x="32" y="-7">77</text><text class="mn" x="272" y="-7">78</text><text class="mn" x="512" y="-7">79</text><text class="mn" x="752" y="-7">80</text>
<text class="s1" x="270" y="77">200</text><text class="s2" x="270" y="90">89751</text><text class="s3" x="270" y="103">0.00%</text>
<text class="s1" x="510" y="77">200</text><text class="s2" x="510" y="90">90551</text><text class="s3" x="510" y="103">0.00%</text>
<text class="s1" x="750" y="77">200</text><text class="s2" x="750" y="90">91351</text><text class="s3" x="750" y="103">0.00%</text>
<text class="s1" x="990" y="77">209</text><text class="s2" x="990" y="90">92187</text><text class="s3" x="990" y="103">0.00%</text>
</g>

<g id="row21" transform="translate(0,3025.5)">
<use href="#r4"/>
<rect class="zY" x="691" y="26.5" width="45" height="7"/><rect class="zY" x="751" y="26.5" width="240" height="7"/><rect class="zB" x="751" y="41.5" width="240" height="7"/><rect class="zO" x="751" y="57.5" width="240" height="7"/>
<use href="#Y" x="31" y="30"/><use href="#Y" x="121" y="30"/><use href="#Y" x="181" y="30"/><use href="#Y" x="241" y="30"/>
<use href="#B" x="91" y="45"/><use href="#B" x="211" y="45"/><use href="#B" x="331" y="45"/><use href="#B" x="451" y="45"/>
<use href="#O" x="61" y="61"/><use href="#O" x="151" y="61"/><use href="#O" x="301" y="61"/><use href="#O" x="391" y="61"/>
<use href="#R" x="271" y="15"/><use href="#R" x="361" y="15"/><use href="#R" x="421" y="15"/><use href="#R" x="481" y="15"/>
<use href="#sY" x="511" y="30"/><use href="#sY" x="601" y="30"/><use href="#sY" x="691" y="30"/><use href="#sY" x="751" y="30"/><use href="#sB" x="541" y="45"/><use href="#sB" x="631" y="45"/><use href="#sB" x="751" y="45"/><use href="#sR" x="571" y="15"/><use href="#sR" x="661" y="15"/><use href="#sO" x="751" y="61"/>
<rect class="og" x="511" y="0" width="480" height="61"/>
<text class="mn" x="32" y="-7">81</text><text class="mn" x="272" y="-7">82</text><text class="mn" x="512" y="-7">83</text><text class="mn" x="752" y="-7">84</text>
<text class="s1" x="270" y="77">200</text><text class="s2" x="270" y="90">92987</text><text class="s3" x="270" y="103">0.00%</text>
<text class="s1" x="510" y="77">200</text><text class="s2" x="510" y="90">93787</text><text class="s3" x="510" y="103">0.00%</text>
<text class="s1" x="750" y="77">184</text><text class="s2" x="750" y="90">94523</text><text class="s3" x="750" y="103">2.55%</text>
<text class="s1" x="990" y="77">219</text><text class="s2" x="990" y="90">95399</text><text class="s3" x="990" y="103">41.15%</text>
</g>

<g id="row22" transform="translate(0,3166.5)">
<use href="#r4"/>
<rect class="zY" x="31" y="26.5" width="224" height="7"/><rect class="zB" x="31" y="41.5" width="224" height="7"/><rect class="zO" x="31" y="57.5" width="224" height="7"/>
<rect class="zY" x="271" y="26.5" width="75" height="7"/><rect class="zO" x="271" y="57.5" width="75" height="7"/><rect class="zB" x="361" y="41.5" width="75" height="7"/><rect class="zO" x="361" y="57.5" width="75" height="7"/><rect class="zY" x="451" y="26.5" width="240" height="7"/>
<rect class="zY" x="751" y="26.5" width="75" height="7"/><rect class="zO" x="751" y="57.5" width="75" height="7"/><rect class="zB" x="841" y="41.5" width="75" height="7"/><rect class="zO" x="841" y="57.5" width="75" height="7"/><rect class="zY" x="931" y="26.5" width="60" height="7"/>
<use href="#Y" x="271" y="30"/><use href="#Y" x="451" y="30"/><use href="#Y" x="751" y="30"/><use href="#Y" x="931" y="30"/>
<use href="#O" x="271" y="61"/><use href="#O" x="361" y="61"/><use href="#O" x="751" y="61"/><use href="#O" x="841" y="61"/>
<use href="#B" x="361" y="45"/><use href="#B" x="841" y="45"/>
<rect class="og" x="31" y="0" width="224" height="61"/>
<text class="mn" x="32" y="-7">85</text><text class="mn" x="272" y="-7">86</text><text class="mn" x="512" y="-7">87</text><text class="mn" x="752" y="-7">88</text>
<text class="s1" x="270" y="77">135</text><text class="s2" x="270" y="90">95939</text><text class="s3" x="270" y="103">53.90%</text>
<text class="s1" x="510" y="77">197</text><text class="s2" x="510" y="90">96727</text><text class="s3" x="510" y="103">53.90%</text>
<text class="s1" x="750" y="77">36</text><text class="s2" x="750" y="90">96871</text><text class="s3" x="750" y="103">53.90%</text>
<text class="s1" x="990" y="77">197</text><text class="s2" x="990" y="90">97659</text><text class="s3" x="990" y="103">53.90%</text>
</g>

<g id="row23" transform="translate(0,3307.5)">
<rect class="py" x="631" y="-10" width="285" height="81"/>
<use href="#r4"/>
<rect class="zY" x="31" y="26.5" width="180" height="7"/>
<rect class="zY" x="271" y="26.5" width="75" height="7"/><rect class="zO" x="271" y="57.5" width="75" height="7"/><rect class="zB" x="361" y="41.5" width="75" height="7"/><rect class="zO" x="361" y="57.5" width="75" height="7"/><rect class="zY" x="451" y="26.5" width="165" height="7"/>
<rect class="zR" x="811" y="11.5" width="105" height="7"/><rect class="zB" x="811" y="41.5" width="105" height="7"/>
<use href="#Y" x="271" y="30"/><use href="#Y" x="451" y="30"/><use href="#O" x="271" y="61"/><use href="#O" x="361" y="61"/><use href="#B" x="361" y="45"/>
<use href="#sY" x="631" y="30"/><use href="#sY" x="661" y="30"/><use href="#sY" x="691" y="30"/><use href="#sY" x="721" y="30"/>
<use href="#sB" x="631" y="45"/><use href="#sB" x="661" y="45"/><use href="#sB" x="691" y="45"/><use href="#sB" x="721" y="45"/>
<use href="#sR" x="811" y="15"/><use href="#sB" x="811" y="45"/>
<use href="#R" x="931" y="15"/><use href="#R" x="961" y="15"/><use href="#B" x="931" y="45"/>
<rect class="og" x="631" y="0" width="285" height="61"/><rect class="op" x="631" y="0" width="10" height="61"/><rect class="ob" x="641" y="0" width="350" height="61"/>
<text class="mn" x="32" y="-7">89</text><text class="mn" x="272" y="-7">90</text><text class="mn" x="512" y="-7">91</text><text class="mn" x="752" y="-7">92</text>
<text class="s1" x="270" y="77">36</text><text class="s2" x="270" y="90">97803</text><text class="s3" x="270" y="103">53.90%</text>
<text class="s1" x="510" y="77">197</text><text class="s2" x="510" y="90">98591</text><text class="s3" x="510" y="103">53.90%</text>
<text class="s1" x="750" y="77">221</text><text class="s2" x="750" y="90">100275</text><text class="s3" x="750" y="103">48.20%</text>
<text class="s1" x="990" y="77">167</text><text class="s2" x="990" y="90">101611</text><text class="s3" x="990" y="103">66.65%</text>
</g>

<g id="row24" transform="translate(0,3448.5)">
<use href="#r4"/>
<rect class="zG" x="31" y="-3.5" width="45" height="7"/><rect class="zY" x="31" y="26.5" width="45" height="7"/><rect class="zY" x="691" y="26.5" width="45" height="7"/><rect class="zR" x="758.5" y="11.5" width="37.5" height="7"/>
<use href="#G" x="31" y="0"/><use href="#G" x="91" y="0"/><use href="#G" x="151" y="0"/><use href="#G" x="511" y="0"/><use href="#G" x="751" y="0"/>
<use href="#Y" x="31" y="30"/><use href="#Y" x="121" y="30"/><use href="#Y" x="211" y="30"/><use href="#Y" x="271" y="30"/><use href="#Y" x="301" y="30"/><use href="#Y" x="331" y="30"/><use href="#Y" x="361" y="30"/><use href="#Y" x="391" y="30"/><use href="#Y" x="451" y="30"/><use href="#Y" x="571" y="30"/><use href="#Y" x="691" y="30"/><use href="#Y" x="811" y="30"/><use href="#Y" x="841" y="30"/><use href="#Y" x="901" y="30"/><use href="#Y" x="931" y="30"/>
<use href="#R" x="181" y="15"/><use href="#R" x="241" y="15"/><use href="#R" x="541" y="15"/><use href="#R" x="758.5" y="15"/>
<use href="#B" x="91" y="45"/><use href="#B" x="421" y="45"/><use href="#B" x="601" y="45"/><use href="#B" x="631" y="45"/><use href="#B" x="661" y="45"/><use href="#B" x="811" y="45"/><use href="#B" x="931" y="45"/>
<use href="#O" x="271" y="61"/><use href="#O" x="331" y="61"/><use href="#O" x="391" y="61"/><use href="#O" x="481" y="61"/><use href="#O" x="638.5" y="61"/><use href="#O" x="871" y="61"/><use href="#O" x="961" y="61"/>
<rect class="ob" x="31" y="0" width="960" height="61"/>
<text class="mn" x="32" y="-7">93</text><text class="mn" x="272" y="-7">94</text><text class="mn" x="512" y="-7">95</text><text class="mn" x="752" y="-7">96</text>
<text class="s1" x="270" y="77">243</text><text class="s2" x="270" y="90">103555</text><text class="s3" x="270" y="103">54.15%</text>
<text class="s1" x="510" y="77">275</text><text class="s2" x="510" y="90">105755</text><text class="s3" x="510" y="103">41.65%</text>
<text class="s1" x="750" y="77">209</text><text class="s2" x="750" y="90">107427</text><text class="s3" x="750" y="103">29.15%</text>
<text class="s1" x="990" y="77">258</text><text class="s2" x="990" y="90">109491</text><text class="s3" x="990" y="103">16.65%</text>
</g>

<g id="row25" transform="translate(0,3589.5)">
<use href="#r4"/>
<rect class="zR" x="31" y="11.5" width="45" height="7"/><rect class="zO" x="271" y="57.5" width="105" height="7"/><rect class="zY" x="391" y="26.5" width="104" height="7"/><rect class="zB" x="511" y="41.5" width="45" height="7"/><rect class="zG" x="811" y="-3.5" width="45" height="7"/><rect class="zB" x="811" y="41.5" width="45" height="7"/><rect class="zY" x="961" y="26.5" width="30" height="7"/>
<use href="#R" x="31" y="15"/><use href="#R" x="91" y="15"/><use href="#R" x="121" y="15"/><use href="#R" x="181" y="15"/><use href="#R" x="211" y="15"/><use href="#R" x="691" y="15"/><use href="#R" x="901" y="15"/>
<use href="#B" x="91" y="45"/><use href="#B" x="151" y="45"/><use href="#B" x="241" y="45"/><use href="#B" x="511" y="45"/><use href="#B" x="571" y="45"/><use href="#B" x="631" y="45"/><use href="#B" x="811" y="45"/>
<use href="#Y" x="226" y="30"/><use href="#Y" x="391" y="30"/><use href="#Y" x="601" y="30"/><use href="#Y" x="661" y="30"/><use href="#Y" x="961" y="30"/>
<use href="#O" x="271" y="61"/>
<use href="#G" x="721" y="0"/><use href="#G" x="751" y="0"/><use href="#G" x="781" y="0"/><use href="#G" x="811" y="0"/><use href="#G" x="871" y="0"/><use href="#G" x="931" y="0"/>
<rect class="ob" x="31" y="0" width="799" height="61"/>
<text class="mn" x="32" y="-7">97</text><text class="mn" x="272" y="-7">98</text><text class="mn" x="512" y="-7">99</text><text class="mn" x="752" y="-7">100</text>
<text class="s1" x="270" y="77">234</text><text class="s2" x="270" y="90">111363</text><text class="s3" x="270" y="103">4.15%</text>
<text class="s1" x="510" y="77">92</text><text class="s2" x="510" y="90">112099</text><text class="s3" x="510" y="103">0.00%</text>
<text class="s1" x="750" y="77">184</text><text class="s2" x="750" y="90">113571</text><text class="s3" x="750" y="103">0.00%</text>
<text class="s1" x="990" y="77">224</text><text class="s2" x="990" y="90">114899</text><text class="s3" x="990" y="103">0.00%</text>
</g>

<g id="row26" transform="translate(0,3730.5)">
<use href="#r4"/>
<rect class="zY" x="31" y="26.5" width="45" height="7"/><rect class="zY" x="91" y="26.5" width="45" height="7"/><rect class="zB" x="91" y="41.5" width="45" height="7"/><rect class="zB" x="241" y="41.5" width="75" height="7"/><rect class="zB" x="331" y="41.5" width="45" height="7"/><rect class="zO" x="331" y="57.5" width="45" height="7"/>
<rect class="zG" x="751" y="-3.5" width="45" height="7"/><rect class="zG" x="811" y="-3.5" width="45" height="7"/><rect class="zB" x="811" y="41.5" width="45" height="7"/><rect class="zY" x="961" y="26.5" width="30" height="7"/>
<use href="#Y" x="91" y="30"/><use href="#Y" x="151" y="30"/><use href="#Y" x="421" y="30"/><use href="#Y" x="481" y="30"/><use href="#Y" x="511" y="30"/><use href="#Y" x="541" y="30"/><use href="#Y" x="571" y="30"/><use href="#Y" x="601" y="30"/><use href="#Y" x="631" y="30"/><use href="#Y" x="661" y="30"/><use href="#Y" x="691" y="30"/><use href="#Y" x="721" y="30"/><use href="#Y" x="961" y="30"/>
<use href="#B" x="91" y="45"/><use href="#B" x="181" y="45"/><use href="#B" x="241" y="45"/><use href="#B" x="331" y="45"/><use href="#B" x="391" y="45"/><use href="#B" x="511" y="45"/><use href="#B" x="541" y="45"/><use href="#B" x="571" y="45"/><use href="#B" x="601" y="45"/><use href="#B" x="631" y="45"/><use href="#B" x="661" y="45"/><use href="#B" x="691" y="45"/><use href="#B" x="721" y="45"/><use href="#B" x="811" y="45"/>
<use href="#O" x="211" y="61"/><use href="#O" x="331" y="61"/><use href="#R" x="451" y="15"/><use href="#R" x="901" y="15"/>
<use href="#G" x="751" y="0"/><use href="#G" x="811" y="0"/><use href="#G" x="871" y="0"/><use href="#G" x="931" y="0"/>
<text class="tp" x="510" y="-20">♩=124</text><text class="tp" x="750" y="-20">♩=125</text>
<text class="mn" x="32" y="-7">101</text><text class="mn" x="272" y="-7">102</text><text class="mn" x="512" y="-7">103</text><text class="mn" x="752" y="-7">104</text>
<text class="s1" x="270" y="77">183</text><text class="s2" x="270" y="90">115631</text><text class="s3" x="270" y="103">0.00%</text>
<text class="s1" x="510" y="77">177</text><text class="s2" x="510" y="90">116339</text><text class="s3" x="510" y="103">0.00%</text>
<text class="s1" x="750" y="77">400</text><text class="s2" x="750" y="90">117939</text><text class="s3" x="750" y="103">0.00%</text>
<text class="s1" x="990" y="77">208</text><text class="s2" x="990" y="90">118771</text><text class="s3" x="990" y="103">0.00%</text>
</g>

<g id="row27" transform="translate(0,3871.5)">
<use href="#r4"/>
<rect class="zY" x="31" y="26.5" width="45" height="7"/><rect class="zY" x="91" y="26.5" width="45" height="7"/><rect class="zB" x="91" y="41.5" width="45" height="7"/><rect class="zB" x="241" y="41.5" width="75" height="7"/><rect class="zB" x="331" y="41.5" width="45" height="7"/><rect class="zO" x="331" y="57.5" width="45" height="7"/>
<rect class="zG" x="751" y="-3.5" width="240" height="7"/><rect class="zB" x="751" y="41.5" width="240" height="7"/>
<use href="#Y" x="91" y="30"/><use href="#Y" x="151" y="30"/><use href="#Y" x="421" y="30"/><use href="#Y" x="481" y="30"/><use href="#Y" x="511" y="30"/><use href="#Y" x="661" y="30"/><use href="#Y" x="721" y="30"/>
<use href="#B" x="91" y="45"/><use href="#B" x="181" y="45"/><use href="#B" x="241" y="45"/><use href="#B" x="331" y="45"/><use href="#B" x="391" y="45"/><use href="#B" x="511" y="45"/><use href="#B" x="541" y="45"/><use href="#B" x="601" y="45"/><use href="#B" x="631" y="45"/><use href="#B" x="751" y="45"/>
<use href="#O" x="211" y="61"/><use href="#O" x="331" y="61"/><use href="#O" x="548.5" y="61"/><use href="#O" x="608.5" y="61"/>
<use href="#R" x="451" y="15"/><use href="#R" x="691" y="15"/><use href="#G" x="751" y="0"/>
<text class="tp" x="30" y="-20">♩=122</text><text class="tp" x="150" y="-20">♩=122</text><text class="tp" x="270" y="-20">♩=125</text><text class="tp" x="510" y="-20">♩=119</text><text class="tp" x="630" y="-20">♩=126</text><text class="tp" x="750" y="-20">♩=124</text>
<text class="mn" x="32" y="-7">105</text><text class="mn" x="272" y="-7">106</text><text class="mn" x="512" y="-7">107</text><text class="mn" x="752" y="-7">108</text>
<text class="s1" x="270" y="77">183</text><text class="s2" x="270" y="90">119503</text><text class="s3" x="270" y="103">0.00%</text>
<text class="s1" x="510" y="77">177</text><text class="s2" x="510" y="90">120211</text><text class="s3" x="510" y="103">0.00%</text>
<text class="s1" x="750" y="77">250</text><text class="s2" x="750" y="90">121211</text><text class="s3" x="750" y="103">0.00%</text>
<text class="s1" x="990" y="77">146</text><text class="s2" x="990" y="90">121795</text><text class="s3" x="990" y="103">0.00%</text>
</g>

<g id="row28" transform="translate(0,4012.5)">
<use href="#r3"/>
<rect class="zG" x="31" y="-3.5" width="720" height="7"/><rect class="zB" x="31" y="41.5" width="720" height="7"/>
<text class="mn" x="32" y="-7">109</text><text class="mn" x="272" y="-7">110</text><text class="mn" x="512" y="-7">111</text>
<text class="s1" x="270" y="77">96</text><text class="s2" x="270" y="90">122179</text><text class="s3" x="270" y="103">0.00%</text>
<text class="s1" x="510" y="77">96</text><text class="s2" x="510" y="90">122563</text><text class="s3" x="510" y="103">0.00%</text>
<text class="s1" x="750" y="77">96</text><text class="s2" x="750" y="90">122947</text><text class="s3" x="750" y="103">0.00%</text>
</g>
</g>
</svg>
